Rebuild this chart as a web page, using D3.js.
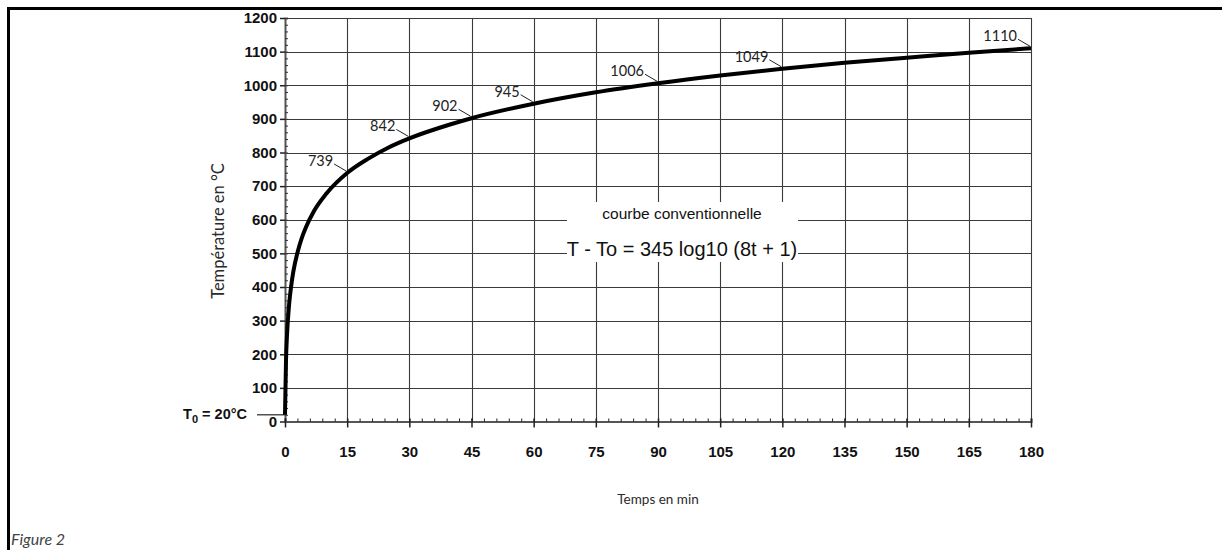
<!DOCTYPE html>
<html>
<head>
<meta charset="utf-8">
<script src="https://cdn.jsdelivr.net/npm/d3@7"></script>
<style>
  body { margin: 0; background: #fff; }
  svg text { font-family: "Liberation Sans", Arial, sans-serif; }
</style>
</head>
<body>
<div id="container"></div>
<script>
  const width = 1222;
  const height = 550;

  // ISO 834 conventional curve (minutes -> °C)
  const times = [0, 0.25, 0.5, 1, 1.5, 2, 3, 4, 5, 7, 10, 15, 20, 25, 30, 40, 45, 60, 75, 90, 105, 120, 135, 150, 165, 180];
  const temps = [20, 185, 261, 349, 404, 445, 502, 544, 576, 626, 678, 739, 781, 815, 842, 884, 902, 945, 979, 1006, 1029, 1049, 1067, 1082, 1097, 1110];

  // annotated points
  const labelTimes = [15, 30, 45, 60, 90, 120, 180];
  const labelTemps = [739, 842, 902, 945, 1006, 1049, 1110];

  const xTicks = [0, 15, 30, 45, 60, 75, 90, 105, 120, 135, 150, 165, 180];
  const yTicks = [0, 100, 200, 300, 400, 500, 600, 700, 800, 900, 1000, 1100, 1200];

  const margin = { left: 285, right: 1031, top: 18, bottom: 421.5 };
  const tickFont = "'Liberation Sans', Arial, sans-serif";

  const svg = d3.create("svg")
    .attr("width", width)
    .attr("height", height);

  const x = d3.scaleLinear().domain([0, 180]).range([margin.left, margin.right]);
  const y = d3.scaleLinear().domain([0, 1200]).range([margin.bottom, margin.top]);

  // page frame
  svg.append("line").attr("x1", 7).attr("x2", width).attr("y1", 8.5).attr("y2", 8.5)
    .attr("stroke", "#000").attr("stroke-width", 3);
  svg.append("line").attr("x1", 8.5).attr("x2", 8.5).attr("y1", 7).attr("y2", height)
    .attr("stroke", "#000").attr("stroke-width", 3);

  // grid
  const grid = svg.append("g").attr("stroke", "#3a3a3a").attr("stroke-width", 1.1);
  grid.selectAll(".h").data(yTicks.slice(1)).join("line")
    .attr("x1", x(0)).attr("x2", x(180))
    .attr("y1", d => Math.round(y(d)) + 0.5).attr("y2", d => Math.round(y(d)) + 0.5);
  grid.selectAll(".v").data(xTicks.slice(1)).join("line")
    .attr("y1", y(0)).attr("y2", y(1200))
    .attr("x1", d => Math.round(x(d)) + 0.5).attr("x2", d => Math.round(x(d)) + 0.5);

  // y axis: major ticks outside, minor ticks inside
  const yAxis = svg.append("g").attr("transform", `translate(${x(0)},0)`);
  yAxis.call(d3.axisRight(y).tickValues(d3.range(0, 1201, 20)).tickSize(3).tickFormat(""));
  yAxis.call(g => g.selectAll(".tick line").attr("stroke", "#333"));
  const yMajor = svg.append("g").attr("transform", `translate(${x(0)},0)`)
    .call(d3.axisLeft(y).tickValues(yTicks).tickSize(5).tickPadding(3).tickFormat(d3.format("d")));
  yMajor.select(".domain").remove();
  yMajor.attr("font-family", null);
  yMajor.selectAll(".tick line").attr("stroke", "#222").attr("stroke-width", 1.5);
  yMajor.selectAll(".tick text")
    .attr("font-size", 15).attr("font-weight", "bold").attr("fill", "#111")
    .style("font-family", tickFont);
  yAxis.select(".domain").attr("stroke", "#555").attr("stroke-width", 2);

  // x axis: minor ticks inside (up), major ticks down
  const xMinor = svg.append("g").attr("transform", `translate(0,${y(0)})`)
    .call(d3.axisTop(x).tickValues(d3.range(0, 181, 3)).tickSize(3).tickFormat(""));
  xMinor.select(".domain").attr("stroke", "#555").attr("stroke-width", 2);
  xMinor.selectAll(".tick line").attr("stroke", "#222");
  const xMajor = svg.append("g").attr("transform", `translate(0,${y(0) - 3})`)
    .call(d3.axisBottom(x).tickValues(xTicks).tickSize(9).tickPadding(19));
  xMajor.select(".domain").remove();
  xMajor.attr("font-family", null);
  xMajor.selectAll(".tick line").attr("stroke", "#222").attr("stroke-width", 1.5);
  xMajor.selectAll(".tick text")
    .attr("font-size", 15).attr("font-weight", "bold").attr("fill", "#111")
    .style("font-family", tickFont);

  // T0 marker
  svg.append("line")
    .attr("x1", x(0) - 28).attr("x2", x(0)).attr("y1", y(20)).attr("y2", y(20))
    .attr("stroke", "#555").attr("stroke-width", 1.5);
  const t0 = svg.append("text")
    .attr("x", x(0) - 38).attr("y", y(20) + 4)
    .attr("text-anchor", "end").attr("font-size", 14.5).attr("font-weight", "bold").attr("fill", "#111");
  t0.append("tspan").text("T");
  t0.append("tspan").attr("font-size", 11).attr("dy", 4).text("0");
  t0.append("tspan").attr("dy", -4).text(" = 20°C");

  // formula box
  svg.append("rect")
    .attr("x", 567).attr("y", 202).attr("width", 231).attr("height", 60)
    .attr("fill", "#fff");
  svg.append("text")
    .attr("x", 682).attr("y", 219)
    .attr("text-anchor", "middle").attr("font-size", 15.5).attr("fill", "#111")
    .text("courbe conventionnelle");
  svg.append("text")
    .attr("x", 682).attr("y", 256)
    .attr("text-anchor", "middle").attr("font-size", 20).attr("fill", "#111")
    .text("T - To = 345 log10 (8t + 1)");

  // curve
  const pts = times.map((t, i) => [t, temps[i]]);
  svg.append("path")
    .datum(pts)
    .attr("fill", "none")
    .attr("stroke", "#000")
    .attr("stroke-width", 4)
    .attr("stroke-linejoin", "round")
    .attr("d", d3.line().x(d => x(d[0])).y(d => y(d[1])).curve(d3.curveMonotoneX));

  // annotations
  const ann = svg.append("g");
  labelTimes.forEach((t, i) => {
    const px = x(t), py = y(labelTemps[i]);
    ann.append("line")
      .attr("x1", px - 13).attr("y1", py - 9).attr("x2", px - 1).attr("y2", py - 2)
      .attr("stroke", "#222").attr("stroke-width", 1);
    ann.append("text")
      .attr("x", px - 14).attr("y", py - 7)
      .attr("text-anchor", "end").attr("font-size", 14.5).attr("fill", "#222")
      .style("font-family", "Lato, sans-serif")
      .text(labelTemps[i]);
  });

  // axis titles
  svg.append("text")
    .attr("transform", `translate(224,${231}) rotate(-90)`)
    .attr("text-anchor", "middle").attr("font-size", 16.5).attr("fill", "#2a2a2a")
    .style("font-family", "Lato, sans-serif")
    .text("Température en °C");
  svg.append("text")
    .attr("x", 658).attr("y", 504)
    .attr("text-anchor", "middle").attr("font-size", 13.5).attr("fill", "#2a2a2a")
    .style("font-family", "Lato, sans-serif")
    .text("Temps en min");

  svg.append("text")
    .attr("x", 11).attr("y", 545)
    .attr("font-size", 16).attr("font-style", "italic").attr("fill", "#444")
    .style("font-family", "Lato, sans-serif")
    .text("Figure 2");

  document.getElementById("container").appendChild(svg.node());
</script>
</body>
</html>
